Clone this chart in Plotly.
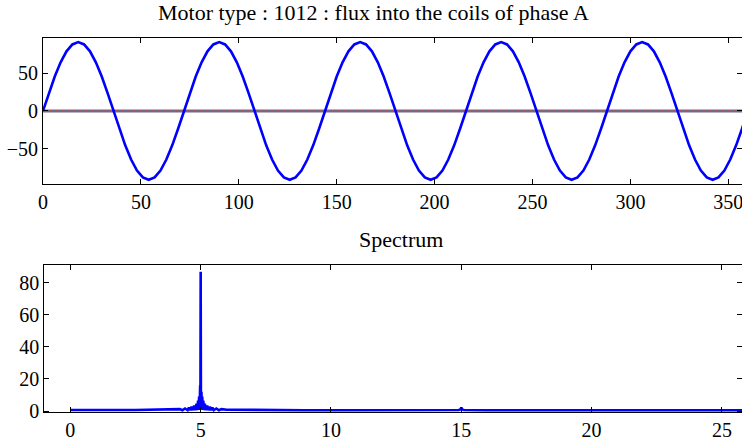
import plotly.graph_objects as go

# ---- data ----
angle_deg = [i * 3 for i in range(121)]
flux_phase_a = [
    0.0, 23.6, 45.5, 64.3, 78.8, 87.9, 91.0, 87.9, 78.8, 64.3, 45.5, 23.6,
    0.0, -23.6, -45.5, -64.3, -78.8, -87.9, -91.0, -87.9, -78.8, -64.3, -45.5, -23.6,
    0.0, 23.6, 45.5, 64.3, 78.8, 87.9, 91.0, 87.9, 78.8, 64.3, 45.5, 23.6,
    0.0, -23.6, -45.5, -64.3, -78.8, -87.9, -91.0, -87.9, -78.8, -64.3, -45.5, -23.6,
    0.0, 23.6, 45.5, 64.3, 78.8, 87.9, 91.0, 87.9, 78.8, 64.3, 45.5, 23.6,
    0.0, -23.6, -45.5, -64.3, -78.8, -87.9, -91.0, -87.9, -78.8, -64.3, -45.5, -23.6,
    0.0, 23.6, 45.5, 64.3, 78.8, 87.9, 91.0, 87.9, 78.8, 64.3, 45.5, 23.6,
    0.0, -23.6, -45.5, -64.3, -78.8, -87.9, -91.0, -87.9, -78.8, -64.3, -45.5, -23.6,
    0.0, 23.6, 45.5, 64.3, 78.8, 87.9, 91.0, 87.9, 78.8, 64.3, 45.5, 23.6,
    0.0, -23.6, -45.5, -64.3, -78.8, -87.9, -91.0, -87.9, -78.8, -64.3, -45.5, -23.6,
    0.0,
]
flat_x = [0, 360]
flux_other_1 = [0.0, 0.0]
flux_other_2 = [0.0, 0.0]

spec_freq = [
    0.0, 0.5, 1.0, 1.5, 2.0, 2.5, 3.0, 3.5, 4.0, 4.2, 4.3, 4.4, 4.5, 4.55, 4.6, 4.65,
    4.7, 4.75, 4.8, 4.84, 4.87, 4.9, 4.92, 4.94, 4.96, 4.97, 4.98, 4.99, 5.0, 5.01,
    5.02, 5.03, 5.04, 5.06, 5.08, 5.1, 5.13, 5.16, 5.2, 5.25, 5.3, 5.35, 5.4, 5.45,
    5.5, 5.6, 5.7, 5.8, 6.0, 6.5, 7.0, 8.0, 9.0, 10.0, 12.0, 14.0, 14.9, 14.97, 15.0,
    15.03, 15.1, 16.0, 18.0, 20.0, 22.0, 24.0, 25.0, 26.0,
]
spec_amp = [
    0.6, 0.5, 0.6, 0.5, 0.6, 0.6, 0.7, 0.7, 0.8, 1.2, 0.5, 1.6, 0.5, 2.1, 0.5, 2.7,
    0.5, 3.3, 0.5, 4.5, 0.5, 6.5, 0.6, 9.0, 0.8, 12.0, 16.0, 3.0, 86.8, 3.0,
    16.0, 12.0, 0.8, 9.0, 0.6, 6.5, 0.5, 4.5, 0.5, 3.3, 0.5, 2.7, 0.5, 2.1,
    0.5, 1.6, 0.5, 1.2, 0.8, 0.7, 0.6, 0.6, 0.5, 0.5, 0.5, 0.5, 0.6, 1.0, 2.2,
    1.0, 0.6, 0.5, 0.5, 0.5, 0.5, 0.5, 0.6, 0.5,
]

top_xticks = [0, 50, 100, 150, 200, 250, 300, 350]
top_yticks = [-50, 0, 50]
bot_xticks = [0, 5, 10, 15, 20, 25]
bot_yticks = [0, 20, 40, 60, 80]

title_top = "Motor type : 1012 : flux into the coils of phase A"
title_bot = "Spectrum"

# ---- figure ----
W, H = 742, 440
FONT = "Liberation Serif, Times New Roman, serif"

fig = go.Figure()
fig.add_trace(go.Scatter(x=flat_x, y=flux_other_1, mode="lines",
                         line=dict(color="#74688a", width=3), xaxis="x", yaxis="y"))
fig.add_trace(go.Scatter(x=flat_x, y=flux_other_2, mode="lines",
                         line=dict(color="#c0504a", width=1.2, dash="dot"), xaxis="x", yaxis="y"))
fig.add_trace(go.Scatter(x=angle_deg, y=flux_phase_a, mode="lines",
                         line=dict(color="#0000ff", width=2.6), xaxis="x", yaxis="y"))
fig.add_trace(go.Scatter(x=spec_freq, y=spec_amp, mode="lines",
                         line=dict(color="#0000ff", width=2.6), xaxis="x2", yaxis="y2"))

def px_x(p):
    return p / W

def px_y(p):
    return 1 - p / H

axis_common = dict(showline=True, linecolor="black", linewidth=1, mirror="ticks",
                   ticks="inside", ticklen=5, tickcolor="black", showgrid=False,
                   zeroline=False, automargin=False, ticklabeloverflow="allow",
                   tickfont=dict(family=FONT, size=20, color="black"))

fig.update_layout(
    width=W, height=H, margin=dict(l=0, r=0, t=0, b=0),
    paper_bgcolor="white", plot_bgcolor="white", showlegend=False,
    xaxis=dict(domain=[px_x(43), 1], range=[0, 357.0], tickvals=top_xticks,
               anchor="y", **axis_common),
    yaxis=dict(domain=[px_y(184.3), px_y(38.3)], range=[-97, 96], tickvals=top_yticks,
               anchor="x", **axis_common),
    xaxis2=dict(domain=[px_x(44.3), 1], range=[-1, 25.77], tickvals=bot_xticks,
                anchor="y2", **axis_common),
    yaxis2=dict(domain=[px_y(412.3), px_y(265)], range=[-0.8, 91], tickvals=bot_yticks,
                anchor="x2", **axis_common),
    annotations=[
        dict(text=title_top, x=px_x(373), y=px_y(13), xref="paper", yref="paper",
             xanchor="center", yanchor="middle", showarrow=False,
             font=dict(family=FONT, size=22, color="black")),
        dict(text=title_bot, x=px_x(400.5), y=px_y(239), xref="paper", yref="paper",
             xanchor="center", yanchor="middle", showarrow=False,
             font=dict(family=FONT, size=22, color="black")),
    ],
)

fig.write_html(
    "out.html",
    config={"displayModeBar": False},
    post_script="document.body.style.margin='0';document.body.style.overflow='hidden';",
)
